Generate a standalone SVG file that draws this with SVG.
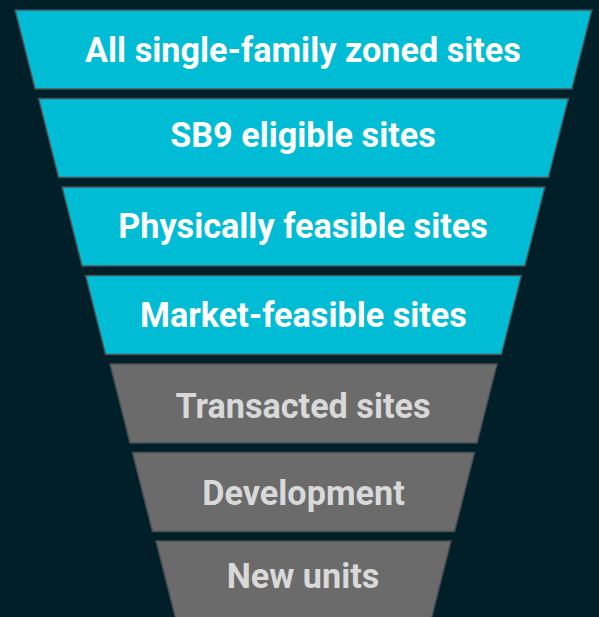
<svg xmlns="http://www.w3.org/2000/svg" width="599" height="617" viewBox="0 0 599 617">
<style>
.bg{fill:#011f28}
.c{fill:#00bcd4;stroke:#4a4f52;stroke-width:1.5}
.g{fill:#6b6b6b;stroke:#4a4f52;stroke-width:1.5}
text{font-family:Roboto,"Liberation Sans",sans-serif;font-weight:bold;font-size:34.2px;text-anchor:middle}
.tw{fill:#ffffff}
.tg{fill:#d9d9d9}
</style>
<rect class="bg" x="0" y="0" width="599" height="617"/>
<g id="stage1"><polygon class="c" points="15,10 592,10 572,89 35,89"/><text class="tw" x="303" y="62">All single-family zoned sites</text></g>
<g id="stage2"><polygon class="c" points="38.5,98.5 568.5,98.5 548.5,177.5 58.5,177.5"/><text class="tw" x="303" y="147">SB9 eligible sites</text></g>
<g id="stage3"><polygon class="c" points="62,187 545,187 525,266 82,266"/><text class="tw" x="303" y="238">Physically feasible sites</text></g>
<g id="stage4"><polygon class="c" points="85.5,275.5 521.5,275.5 501.5,354.5 105.5,354.5"/><text class="tw" x="303.5" y="327">Market-feasible sites</text></g>
<g id="stage5"><polygon class="g" points="110,364 497,364 477,443 130,443"/><text class="tg" x="303" y="418">Transacted sites</text></g>
<g id="stage6"><polygon class="g" points="132.5,452.5 474.5,452.5 454.5,531.5 152.5,531.5"/><text class="tg" x="303.5" y="505">Development</text></g>
<g id="stage7"><polygon class="g" points="156,541 451,541 431,620 176,620"/><text class="tg" x="303" y="588">New units</text></g>
<g id="connectors"></g>
</svg>
